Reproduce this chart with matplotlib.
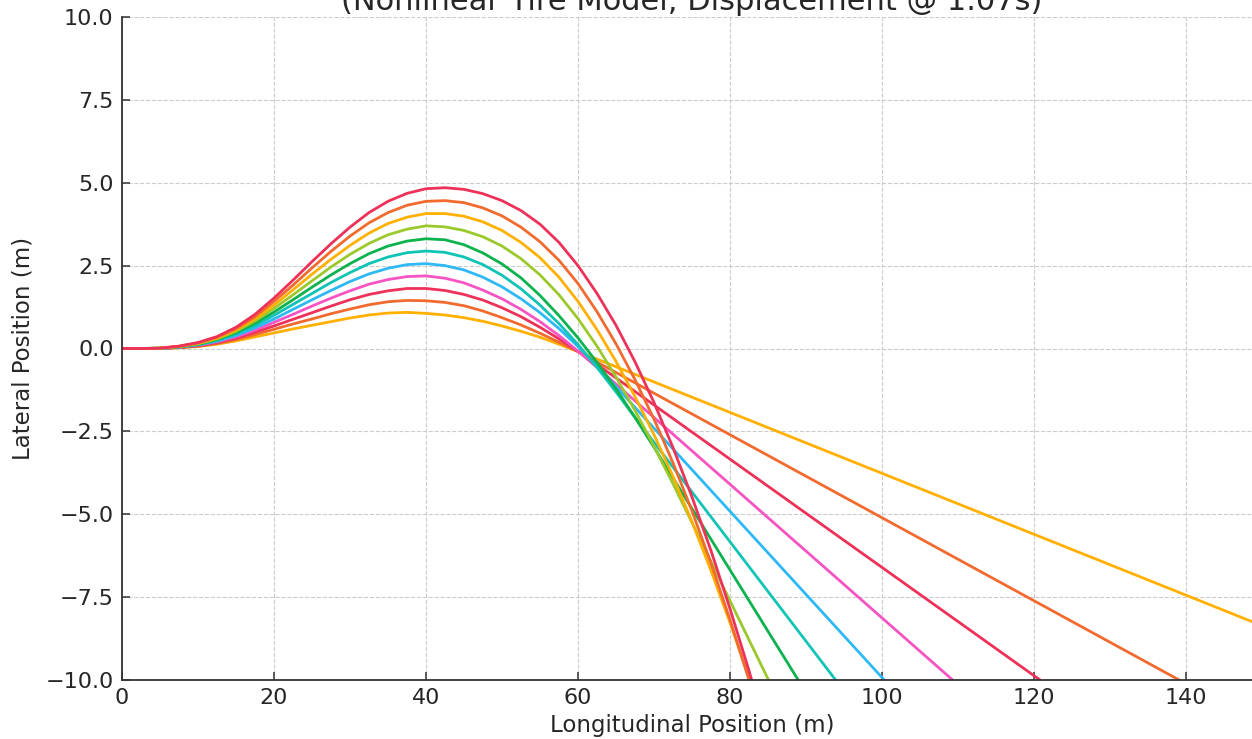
import matplotlib
matplotlib.use("Agg")
import matplotlib.pyplot as plt

# longitudinal samples shared by every trajectory (m)
x_base = [0, 2.5, 5, 7.5, 10, 12.5, 15, 17.5, 20, 22.5, 25, 27.5, 30,
          32.5, 35, 37.5, 40, 42.5, 45, 47.5, 50, 52.5, 55, 57.5, 60, 62.5]

# lateral position on x_base, lowest peak first (plot order)
y_amber2 = [0, 0, 0, 0.02, 0.06, 0.13, 0.23, 0.35, 0.47, 0.59, 0.70, 0.81, 0.92,
            1.01, 1.07, 1.09, 1.06, 1.01, 0.93, 0.82, 0.68, 0.52, 0.34, 0.13, -0.09, -0.32]
y_orange2 = [0, 0, 0, 0.03, 0.07, 0.15, 0.27, 0.42, 0.58, 0.74, 0.89, 1.05, 1.19,
             1.32, 1.41, 1.45, 1.44, 1.39, 1.29, 1.13, 0.93, 0.71, 0.46, 0.19, -0.10, -0.41]
y_red2 = [0, 0, 0, 0.03, 0.08, 0.18, 0.31, 0.49, 0.68, 0.88, 1.08, 1.28, 1.47,
          1.63, 1.74, 1.81, 1.81, 1.75, 1.63, 1.46, 1.23, 0.96, 0.64, 0.29, -0.08, -0.48]
y_pink = [0, 0, 0, 0.04, 0.10, 0.20, 0.35, 0.55, 0.79, 1.03, 1.28, 1.52, 1.74,
          1.94, 2.08, 2.17, 2.19, 2.12, 1.98, 1.76, 1.50, 1.18, 0.81, 0.39, -0.08, -0.57]
y_blue = [0, 0, 0, 0.04, 0.11, 0.22, 0.39, 0.62, 0.89, 1.18, 1.47, 1.75, 2.02,
          2.25, 2.42, 2.53, 2.56, 2.50, 2.37, 2.15, 1.86, 1.50, 1.08, 0.60, 0.06, -0.53]
y_teal = [0, 0, 0.01, 0.05, 0.12, 0.25, 0.44, 0.69, 1.00, 1.33, 1.66, 1.99, 2.29,
          2.56, 2.76, 2.89, 2.94, 2.90, 2.76, 2.53, 2.21, 1.80, 1.31, 0.75, 0.12, -0.57]
y_green = [0, 0, 0.01, 0.05, 0.13, 0.27, 0.48, 0.76, 1.10, 1.47, 1.85, 2.22, 2.56,
           2.86, 3.09, 3.24, 3.31, 3.28, 3.13, 2.88, 2.55, 2.13, 1.60, 0.99, 0.32, -0.42]
y_lime = [0, 0, 0.01, 0.06, 0.14, 0.29, 0.52, 0.83, 1.21, 1.62, 2.04, 2.46, 2.84,
          3.17, 3.43, 3.60, 3.70, 3.67, 3.56, 3.37, 3.09, 2.71, 2.22, 1.62, 0.90, 0.07]
y_amber = [0, 0, 0.01, 0.06, 0.16, 0.31, 0.56, 0.89, 1.31, 1.77, 2.24, 2.69, 3.11,
           3.48, 3.77, 3.96, 4.07, 4.07, 3.99, 3.82, 3.56, 3.20, 2.74, 2.15, 1.42, 0.57]
y_orange = [0, 0, 0.01, 0.07, 0.17, 0.34, 0.60, 0.96, 1.42, 1.91, 2.43, 2.93, 3.39,
            3.79, 4.10, 4.32, 4.44, 4.46, 4.40, 4.24, 4.00, 3.66, 3.22, 2.66, 1.96, 1.11]
y_red = [0, 0, 0.01, 0.07, 0.18, 0.36, 0.64, 1.03, 1.52, 2.06, 2.62, 3.16, 3.66,
         4.10, 4.44, 4.68, 4.82, 4.85, 4.80, 4.67, 4.46, 4.16, 3.75, 3.20, 2.50, 1.66]

# continuation beyond x = 62.5
tail_x = [[150], [139.1], [120.8], [109.3], [65, 100.3], [65, 67.5, 94],
          [65, 67.5, 70, 90],
          [65, 67.5, 70, 72.5, 75, 77.5, 80, 82.5, 85, 87.5],
          [65, 67.5, 70, 72.5, 75, 77.5, 80, 82.5, 85],
          [65, 67.5, 70, 72.5, 75, 77.5, 80, 82.5, 85],
          [65, 67.5, 70, 72.5, 75, 77.5, 80, 82.5, 85]]
tail_y = [[-8.36], [-10.0], [-10.0], [-10.0], [-1.15, -10.0], [-1.31, -2.08, -10.03],
          [-1.22, -2.08, -2.98, -10.38],
          [-0.86, -1.87, -2.95, -4.08, -5.25, -6.43, -7.61, -8.79, -9.97, -11.15],
          [-0.39, -1.45, -2.60, -3.86, -5.23, -6.70, -8.27, -9.93, -11.68],
          [0.14, -0.94, -2.13, -3.45, -4.90, -6.48, -8.18, -10.0, -11.93],
          [0.70, -0.40, -1.63, -2.99, -4.48, -6.10, -7.85, -9.72, -11.70]]

lateral = [y_amber2, y_orange2, y_red2, y_pink, y_blue, y_teal,
           y_green, y_lime, y_amber, y_orange, y_red]
colors = ['#FFB000', '#F26A2E', '#EE3158', '#F653C3', '#2EB9F5', '#10C4B5',
          '#0BB24D', '#9BC92C', '#FFB000', '#F26A2E', '#EE3158']

text_col = '#262626'
plt.rcParams['font.family'] = 'DejaVu Sans'

fig = plt.figure(figsize=(12.52, 7.39), dpi=100)
ax = fig.add_axes([122 / 1252, 59 / 739, 1140 / 1252, 663 / 739])

for ys, tx, ty, c in zip(lateral, tail_x, tail_y, colors):
    ax.plot(x_base + tx, ys + ty, color=c, lw=2.0,
            solid_joinstyle='round', solid_capstyle='round')

ax.set_xlim(0, 150)
ax.set_ylim(-10, 10)
ax.set_xticks(range(0, 160, 20))
ax.set_yticks([-10, -7.5, -5, -2.5, 0, 2.5, 5, 7.5, 10])
ax.set_yticklabels(['\u221210.0', '\u22127.5', '\u22125.0', '\u22122.5', '0.0',
                    '2.5', '5.0', '7.5', '10.0'])
ax.grid(True, linestyle='--', linewidth=0.8, color='#cccccc')
ax.set_axisbelow(True)
for side in ['top', 'right']:
    ax.spines[side].set_visible(False)
for side in ['left', 'bottom']:
    ax.spines[side].set_color('#333333')
    ax.spines[side].set_linewidth(1.3)
ax.tick_params(direction='in', length=6, width=1.1, color='#333333',
               labelsize=16, labelcolor=text_col, pad=6)

ax.set_xlabel('Longitudinal Position (m)', fontsize=16.5, color=text_col, labelpad=4)
ax.set_ylabel('Lateral Position (m)', fontsize=16.5, color=text_col, labelpad=8)
fig.text(692 / 1252, 1 - 10 / 739, '(Nonlinear Tire Model, Displacement @ 1.07s)',
         ha='center', va='baseline', fontsize=22, color=text_col)

fig.savefig('out.png', dpi=100)
